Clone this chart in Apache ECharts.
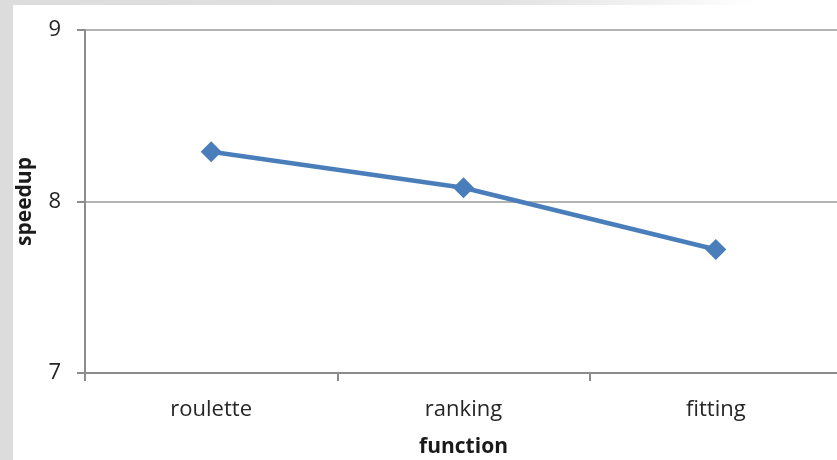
<!DOCTYPE html>
<html>
<head>
<meta charset="utf-8">
<script src="https://cdn.jsdelivr.net/npm/echarts@6/dist/echarts.min.js"></script>
<style>
  html, body { margin: 0; padding: 0; background: #ffffff; }
  #wrap { position: relative; width: 837px; height: 460px; overflow: hidden; }
  #edgeLeft { position: absolute; left: 0; top: 0; width: 13px; height: 460px; background: #dcdcdc; }
  #edgeTop { position: absolute; left: 0; top: 0; width: 837px; height: 5px;
    background: linear-gradient(to right, #dcdcdc 0%, #e2e2e2 60%, #f4f4f4 80%, #ffffff 90%); }
  #chart { position: absolute; left: 0; top: 0; width: 880px; height: 460px; }
</style>
</head>
<body>
<div id="wrap">
  <div id="edgeLeft"></div>
  <div id="edgeTop"></div>
  <div id="chart"></div>
</div>
<script>
// Speedup per GA function
const categories = ['roulette', 'ranking', 'fitting'];
const speedup = [8.29, 8.08, 7.72];
const yTicks = [7, 8, 9];

const axisGray = '#8c8c8c';
const gridGray = '#b3b3b3';
const textColor = '#262626';
const fontFamily = '"Open Sans", sans-serif';

const chart = echarts.init(document.getElementById('chart'), null, { renderer: 'canvas' });
chart.setOption({
  backgroundColor: 'transparent',
  animation: false,
  grid: { left: 85, top: 30, width: 757, height: 343, containLabel: false, outerBoundsMode: 'none' },
  xAxis: {
    type: 'category',
    data: categories,
    boundaryGap: true,
    name: 'function',
    nameLocation: 'middle',
    nameGap: 64,
    nameTextStyle: { fontFamily, fontSize: 21, fontWeight: 'bold', color: '#1a1a1a' },
    axisLine: { show: true, lineStyle: { color: axisGray, width: 2 } },
    axisTick: { show: true, alignWithLabel: false, length: 8, lineStyle: { color: axisGray, width: 2 } },
    axisLabel: { fontFamily, fontSize: 22, color: textColor, margin: 26 },
    splitLine: { show: false }
  },
  yAxis: {
    type: 'value',
    min: yTicks[0],
    max: yTicks[yTicks.length - 1],
    interval: 1,
    name: 'speedup',
    nameLocation: 'middle',
    nameGap: 49,
    nameRotate: 90,
    nameTextStyle: { fontFamily, fontSize: 21, fontWeight: 'bold', color: '#1a1a1a' },
    axisLine: { show: true, lineStyle: { color: axisGray, width: 2 } },
    axisTick: { show: true, length: 8, lineStyle: { color: axisGray, width: 2 } },
    axisLabel: { fontFamily, fontSize: 22, color: textColor, margin: 24 },
    splitLine: { show: true, lineStyle: { color: gridGray, width: 2 } }
  },
  series: [{
    type: 'line',
    data: speedup,
    symbol: 'diamond',
    symbolSize: 21,
    lineStyle: { color: '#4a7ebb', width: 4.5 },
    itemStyle: { color: '#4a7ebb' },
    label: { show: false }
  }]
});
</script>
</body>
</html>
